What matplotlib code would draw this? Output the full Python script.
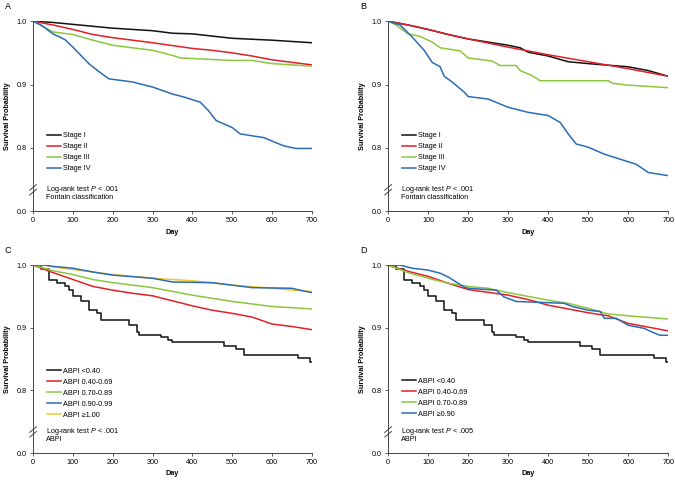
import matplotlib
matplotlib.use('Agg')
import matplotlib.pyplot as plt

# Kaplan-Meier style curves
# Panel A: Fontain classification (all patients)
a_day_1 = [0, 50, 100, 200, 300, 350, 400, 500, 600, 700]
a_surv_1 = [1.0, 0.998, 0.995, 0.989, 0.985, 0.981, 0.980, 0.973, 0.970, 0.966]
a_day_2 = [0, 50, 100, 150, 200, 300, 400, 450, 500, 550, 600, 700]
a_surv_2 = [1.0, 0.994, 0.987, 0.979, 0.974, 0.966, 0.957, 0.954, 0.950, 0.945, 0.939, 0.931]
a_day_3 = [0, 30, 50, 100, 150, 200, 300, 350, 370, 500, 550, 600, 700]
a_surv_3 = [1.0, 0.990, 0.983, 0.979, 0.970, 0.962, 0.954, 0.946, 0.942, 0.938, 0.938, 0.933, 0.929]
a_day_4 = [0, 20, 50, 80, 100, 120, 140, 160, 190, 250, 300, 350, 380, 420, 440, 460,
           500, 520, 580, 610, 630, 660, 700]
a_surv_4 = [1.0, 0.994, 0.980, 0.971, 0.959, 0.946, 0.933, 0.923, 0.909, 0.904, 0.896, 0.885,
            0.880, 0.872, 0.859, 0.843, 0.832, 0.822, 0.816, 0.808, 0.803, 0.799, 0.799]

# Panel B: Fontain classification (second cohort)
b_day_1 = [0, 50, 100, 150, 200, 250, 300, 330, 350, 400, 450, 500, 600, 650, 700]
b_surv_1 = [1.0, 0.994, 0.987, 0.979, 0.972, 0.967, 0.962, 0.958, 0.951, 0.945, 0.936, 0.933,
            0.928, 0.922, 0.913]
b_day_2 = [0, 50, 100, 150, 200, 300, 400, 500, 600, 700]
b_surv_2 = [1.0, 0.994, 0.987, 0.979, 0.972, 0.959, 0.947, 0.936, 0.925, 0.913]
b_day_3 = [0, 20, 50, 80, 110, 130, 180, 200, 260, 280, 320, 330, 360, 380, 550, 560, 600, 700]
b_surv_3 = [1.0, 0.994, 0.980, 0.976, 0.967, 0.958, 0.953, 0.942, 0.937, 0.930, 0.930, 0.922,
            0.914, 0.906, 0.906, 0.902, 0.899, 0.895]
b_day_4 = [0, 30, 60, 90, 110, 130, 140, 160, 190, 200, 250, 300, 350, 400, 430, 450, 470,
           500, 540, 580, 620, 650, 700]
b_surv_4 = [1.0, 0.994, 0.975, 0.954, 0.935, 0.928, 0.913, 0.904, 0.888, 0.881, 0.877, 0.864,
            0.856, 0.851, 0.840, 0.822, 0.806, 0.801, 0.790, 0.782, 0.774, 0.761, 0.756]

# Panel C: ABPI (5 groups)
c_day_1 = [0, 20, 40, 60, 80, 90, 100, 120, 140, 160, 170, 230, 240, 260, 265, 320, 340, 350,
           460, 480, 510, 530, 660, 665, 690, 695, 700]
c_surv_1 = [1.0, 0.993, 0.976, 0.971, 0.966, 0.960, 0.950, 0.942, 0.928, 0.923, 0.912, 0.912,
            0.904, 0.894, 0.888, 0.886, 0.881, 0.878, 0.878, 0.871, 0.866, 0.857, 0.857, 0.851,
            0.851, 0.845, 0.845]
c_day_2 = [0, 50, 100, 150, 200, 250, 300, 350, 400, 450, 500, 550, 600, 650, 700]
c_surv_2 = [1.0, 0.988, 0.977, 0.966, 0.960, 0.955, 0.951, 0.943, 0.935, 0.928, 0.923, 0.917,
            0.906, 0.902, 0.897]
c_day_3 = [0, 50, 100, 150, 200, 300, 350, 400, 500, 600, 700]
c_surv_3 = [1.0, 0.991, 0.985, 0.977, 0.972, 0.964, 0.958, 0.952, 0.942, 0.934, 0.930]
c_day_4 = [0, 30, 50, 100, 150, 200, 300, 350, 450, 500, 550, 650, 670, 700]
c_surv_4 = [1.0, 1.0, 0.998, 0.995, 0.989, 0.984, 0.979, 0.973, 0.972, 0.968, 0.964, 0.963,
            0.960, 0.956]
c_day_5 = [0, 30, 50, 150, 200, 300, 400, 500, 600, 650, 700]
c_surv_5 = [1.0, 1.0, 0.997, 0.989, 0.985, 0.979, 0.975, 0.968, 0.963, 0.960, 0.958]

# Panel D: ABPI (4 groups)
d_day_1 = c_day_1
d_surv_1 = c_surv_1
d_day_2 = [0, 50, 100, 150, 200, 300, 350, 400, 500, 550, 600, 650, 700]
d_surv_2 = [1.0, 0.990, 0.982, 0.971, 0.961, 0.952, 0.945, 0.936, 0.924, 0.919, 0.907, 0.901,
            0.895]
d_day_3 = [0, 50, 100, 150, 200, 250, 300, 400, 450, 500, 550, 600, 700]
d_surv_3 = [1.0, 0.988, 0.979, 0.971, 0.966, 0.963, 0.956, 0.944, 0.939, 0.931, 0.922, 0.919,
            0.914]
d_day_4 = [0, 30, 60, 100, 130, 150, 170, 190, 200, 270, 290, 320, 440, 460, 500, 530, 540,
           570, 600, 640, 660, 680, 700]
d_surv_4 = [1.0, 1.0, 0.995, 0.992, 0.987, 0.981, 0.973, 0.965, 0.963, 0.960, 0.949, 0.942,
            0.939, 0.934, 0.928, 0.926, 0.915, 0.915, 0.904, 0.899, 0.893, 0.888, 0.888]

stage_labels = ['Stage I', 'Stage II', 'Stage III', 'Stage IV']
abpi5_labels = ['ABPI <0.40', 'ABPI 0.40-0.69', 'ABPI 0.70-0.89', 'ABPI 0.90-0.99', 'ABPI \u22651.00']
abpi4_labels = ['ABPI <0.40', 'ABPI 0.40-0.69', 'ABPI 0.70-0.89', 'ABPI \u22650.90']

BLACK = '#111111'
RED = '#e32028'
GREEN = '#8cc63e'
BLUE = '#2b6cb5'
YELLOW = '#f6c52a'

plt.rcParams['font.family'] = ['Liberation Sans', 'DejaVu Sans']
plt.rcParams['mathtext.fontset'] = 'custom'
plt.rcParams['mathtext.it'] = 'Liberation Sans:italic'
plt.rcParams['mathtext.rm'] = 'Liberation Sans'
FS = 5.2

fig = plt.figure(figsize=(6.75, 4.82), dpi=100)

panels = [
    ('A', [0.049, 0.562, 0.413, 0.394],
     [(a_day_1, a_surv_1), (a_day_2, a_surv_2), (a_day_3, a_surv_3), (a_day_4, a_surv_4)],
     stage_labels, [BLACK, RED, GREEN, BLUE], 'Log-rank test $\\mathit{P}$ < .001', 'Fontain classification'),
    ('B', [0.575, 0.562, 0.415, 0.394],
     [(b_day_1, b_surv_1), (b_day_2, b_surv_2), (b_day_3, b_surv_3), (b_day_4, b_surv_4)],
     stage_labels, [BLACK, RED, GREEN, BLUE], 'Log-rank test $\\mathit{P}$ < .001', 'Fontain classification'),
    ('C', [0.049, 0.060, 0.413, 0.390],
     [(c_day_1, c_surv_1), (c_day_2, c_surv_2), (c_day_3, c_surv_3), (c_day_5, c_surv_5),
      (c_day_4, c_surv_4)],
     None, [BLACK, RED, GREEN, YELLOW, BLUE], 'Log-rank test $\\mathit{P}$ < .001', 'ABPI'),
    ('D', [0.575, 0.060, 0.415, 0.390],
     [(d_day_1, d_surv_1), (d_day_2, d_surv_2), (d_day_3, d_surv_3), (d_day_4, d_surv_4)],
     abpi4_labels, [BLACK, RED, GREEN, BLUE], 'Log-rank test $\\mathit{P}$ < .005', 'ABPI'),
]

leg_kw = dict(loc='upper left', frameon=False, fontsize=FS, labelspacing=0.55,
              handlelength=1.9, handletextpad=0.35, borderpad=0, borderaxespad=0)

for letter, rect, curves, labels, colors, note1, note2 in panels:
    ax = fig.add_axes(rect)
    if letter == 'C':
        # yellow drawn under blue, legend order kept as in the original
        order_labels = [abpi5_labels[0], abpi5_labels[1], abpi5_labels[2], abpi5_labels[4], abpi5_labels[3]]
        handles = {}
        for (d, s), c, lab in zip(curves, colors, order_labels):
            style = 'steps-post' if lab == 'ABPI <0.40' else 'default'
            h, = ax.plot(d, s, color=c, lw=1.1, drawstyle=style, label=lab)
            handles[lab] = h
        ax.legend([handles[l] for l in abpi5_labels], abpi5_labels,
                  bbox_to_anchor=(0.05, 0.455), **leg_kw)
    else:
        for (d, s), c, lab in zip(curves, colors, labels):
            style = 'steps-post' if lab == 'ABPI <0.40' else 'default'
            ax.plot(d, s, color=c, lw=1.1, drawstyle=style, label=lab)
        top = 0.415 if letter in ('A', 'B') else 0.40
        ax.legend(bbox_to_anchor=(0.05, top), **leg_kw)

    ax.set_xlim(0, 700)
    ax.set_ylim(0.7, 1.0)
    ax.set_xticks(range(0, 701, 100))
    ax.set_yticks([0.7, 0.8, 0.9, 1.0])
    ax.set_yticklabels(['0.0', '0.8', '0.9', '1.0'])
    ax.tick_params(labelsize=FS, length=2.5, width=0.6, color='#444444', pad=2)
    for sp in ['top', 'right']:
        ax.spines[sp].set_visible(False)
    for sp in ['left', 'bottom']:
        ax.spines[sp].set_linewidth(0.7)
        ax.spines[sp].set_color('#444444')
    ax.set_xlabel('Day', fontsize=FS, fontweight='bold', labelpad=3)
    ax.set_ylabel('Survival Probability', fontsize=FS, fontweight='bold', labelpad=4)

    # axis break marks
    for dy in (0.0, 0.025):
        ax.plot([-0.012, 0.012], [0.085 + dy, 0.115 + dy], transform=ax.transAxes,
                color='#444444', lw=0.7, clip_on=False)

    ax.text(0.047, 0.115, note1, transform=ax.transAxes, fontsize=FS, va='center')
    ax.text(0.047, 0.072, note2, transform=ax.transAxes, fontsize=FS, va='center')

    fx = rect[0] - 0.047
    fy = rect[1] + rect[3] + 0.03
    fig.text(fx + 0.005, fy, letter, fontsize=6.5, va='center')

fig.savefig('out.png', dpi=100)
